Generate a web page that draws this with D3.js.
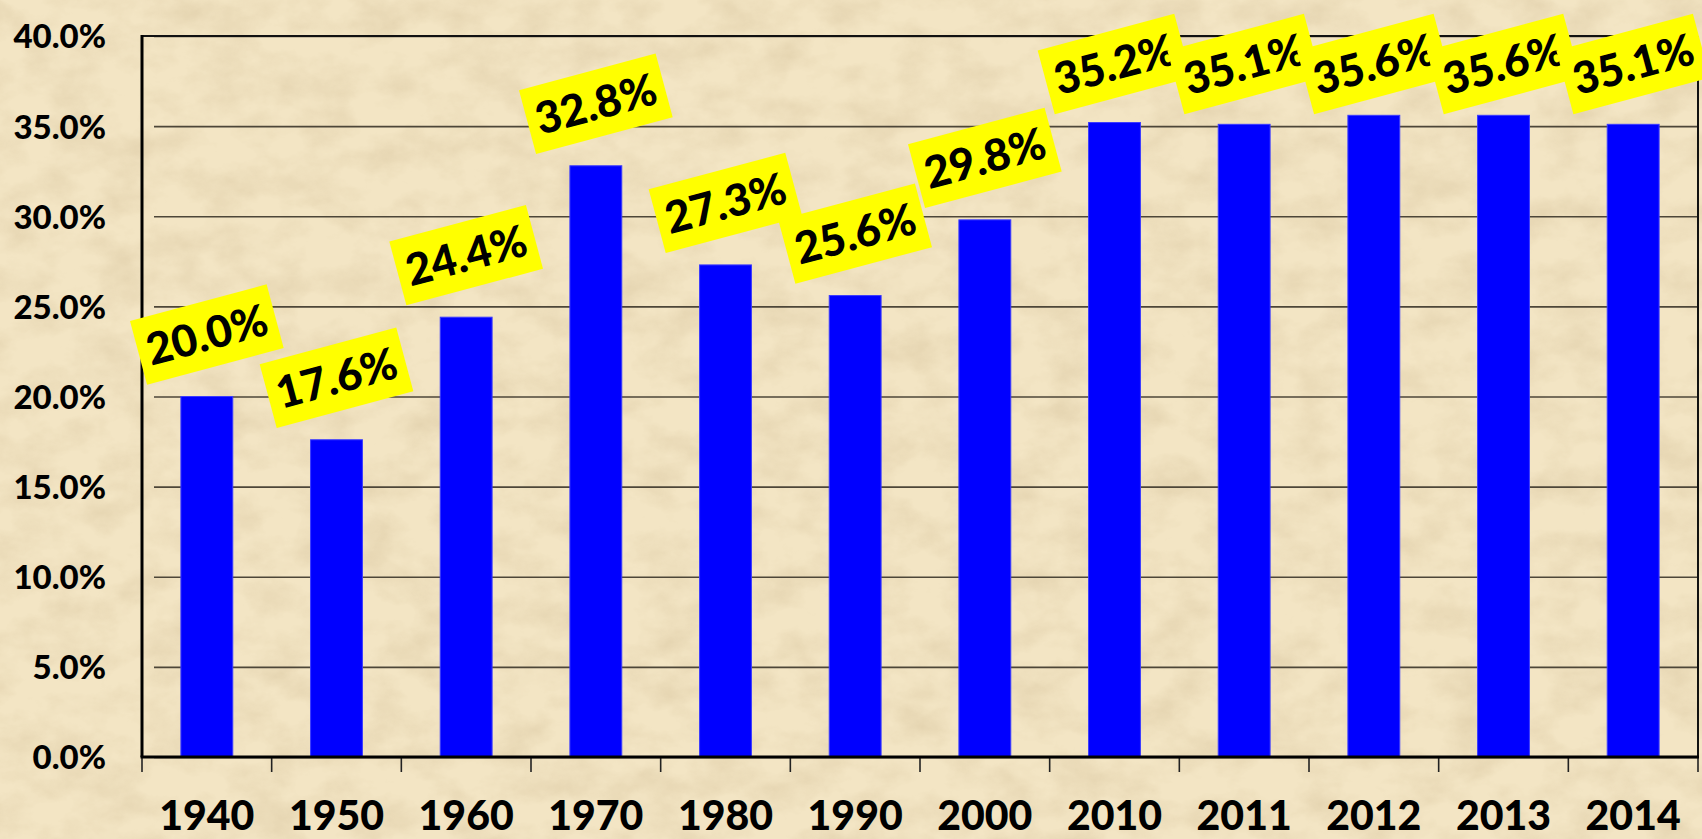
<!DOCTYPE html>
<html>
<head>
<meta charset="utf-8">
<script src="https://cdn.jsdelivr.net/npm/d3@7"></script>
<style>
  body { margin: 0; background: #efdfbb; }
  svg { display: block; }
</style>
</head>
<body>
<div id="content"></div>
<script>
const years = ['1940', '1950', '1960', '1970', '1980', '1990', '2000', '2010', '2011', '2012', '2013', '2014'];
const shares = [20.0, 17.6, 24.4, 32.8, 27.3, 25.6, 29.8, 35.2, 35.1, 35.6, 35.6, 35.1];
const yTicks = [0, 5, 10, 15, 20, 25, 30, 35, 40];

const WIDTH = 1702;
const HEIGHT = 839;
const margin = {top: 36, right: 4, bottom: 82, left: 142};
const FONT = 'Lato, "Liberation Sans", Arial, sans-serif';

let svg = d3.select('#content')
    .append('svg')
    .attr('width', WIDTH)
    .attr('height', HEIGHT);

// parchment background
let defs = svg.append('defs');
let paper = defs.append('filter')
    .attr('id', 'paper')
    .attr('x', 0).attr('y', 0).attr('width', '100%').attr('height', '100%');
paper.append('feTurbulence')
    .attr('type', 'fractalNoise')
    .attr('baseFrequency', '0.02 0.03')
    .attr('numOctaves', 5)
    .attr('seed', 7)
    .attr('result', 'noise');
paper.append('feColorMatrix')
    .attr('in', 'noise')
    .attr('type', 'matrix')
    .attr('values', '0 0 0 0 0.6  0 0 0 0 0.47  0 0 0 0 0.27  0 0 0 -1.6 1.0');

svg.append('rect')
    .attr('width', WIDTH)
    .attr('height', HEIGHT)
    .attr('fill', '#f3e5c4');
svg.append('rect')
    .attr('width', WIDTH)
    .attr('height', HEIGHT)
    .attr('filter', 'url(#paper)')
    .attr('opacity', 0.4);

let x = d3.scaleBand()
    .domain(years)
    .range([margin.left, WIDTH - margin.right])
    .paddingInner(0.6)
    .paddingOuter(0.3);

let y = d3.scaleLinear()
    .domain([0, 40])
    .range([HEIGHT - margin.bottom, margin.top]);

let x0 = margin.left, x1 = WIDTH - margin.right;
let yBottom = y(0), yTop = y(40);

// gridlines + y axis
let yAxis = svg.append('g')
    .attr('transform', `translate(${x0},0)`)
    .call(d3.axisLeft(y)
        .tickValues(yTicks)
        .tickSize(-(x1 - x0))
        .tickFormat(d => d.toFixed(1) + '%'));
yAxis.select('.domain').remove();
yAxis.selectAll('.tick line')
    .attr('x1', 12)
    .attr('stroke', '#4d4638')
    .attr('stroke-width', 1.6);
yAxis.selectAll('.tick text')
    .attr('font-family', FONT)
    .attr('font-weight', 900)
    .attr('font-size', 33)
    .attr('fill', '#000')
    .attr('dy', '0.36em')
    .attr('x', -36);

// plot frame
svg.append('line')
    .attr('x1', x0).attr('x2', x1).attr('y1', yTop).attr('y2', yTop)
    .attr('stroke', '#111').attr('stroke-width', 2);
svg.append('line')
    .attr('x1', x1).attr('x2', x1).attr('y1', yTop).attr('y2', yBottom)
    .attr('stroke', '#111').attr('stroke-width', 2);
svg.append('line')
    .attr('x1', x0).attr('x2', x0).attr('y1', yTop - 1).attr('y2', yBottom)
    .attr('stroke', '#000').attr('stroke-width', 3);

// bars
svg.append('g')
    .selectAll('rect')
    .data(years)
    .join('rect')
    .attr('x', d => x(d))
    .attr('y', (d, i) => y(shares[i]))
    .attr('width', x.bandwidth())
    .attr('height', (d, i) => yBottom - y(shares[i]))
    .attr('fill', '#0000ff')
    .attr('stroke', '#3a3aff')
    .attr('stroke-width', 1);

// x axis with ticks on band boundaries
let step = x.step();
let boundaries = d3.range(years.length + 1).map(i => x0 + i * step);
svg.append('g')
    .selectAll('line')
    .data(boundaries)
    .join('line')
    .attr('x1', d => d).attr('x2', d => d)
    .attr('y1', yBottom).attr('y2', yBottom + 15)
    .attr('stroke', '#222')
    .attr('stroke-width', 1.6);
svg.append('line')
    .attr('x1', x0 - 1.5).attr('x2', x1 + 1).attr('y1', yBottom).attr('y2', yBottom)
    .attr('stroke', '#000').attr('stroke-width', 3);

svg.append('g')
    .selectAll('text')
    .data(years)
    .join('text')
    .attr('x', d => x(d) + x.bandwidth() / 2)
    .attr('y', HEIGHT - 9)
    .attr('text-anchor', 'middle')
    .attr('font-family', FONT)
    .attr('font-weight', 900)
    .attr('font-size', 41)
    .attr('fill', '#000')
    .text(d => d);

// rotated yellow value labels
let labels = svg.append('g');
years.forEach((yr, i) => {
    let cx = x(yr) + x.bandwidth() / 2;
    let cy = Math.max(y(shares[i]) - 62, 64);
    let g = labels.append('g')
        .attr('transform', `translate(${cx},${cy}) rotate(-15)`);
    let box = g.append('rect').attr('fill', '#ffff00');
    let t = g.append('text')
        .attr('text-anchor', 'middle')
        .attr('dy', '0.36em')
        .attr('font-family', FONT)
        .attr('font-weight', 900)
        .attr('font-size', 44)
        .attr('fill', '#000')
        .text(shares[i].toFixed(1) + '%');
    let w = t.node().getComputedTextLength() + 18;
    box.attr('x', -w / 2).attr('y', -33).attr('width', w).attr('height', 66);
});
</script>
</body>
</html>
